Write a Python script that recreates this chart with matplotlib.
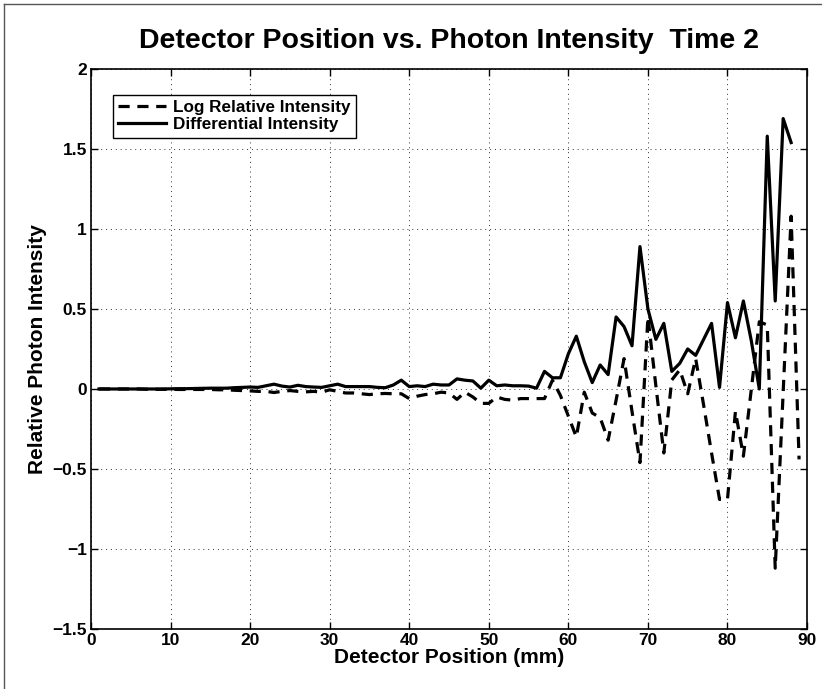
import numpy as np
import matplotlib
matplotlib.use('Agg')
from matplotlib import pyplot as plt
from matplotlib.lines import Line2D

# values
pos_diff = np.arange(1, 89)
diff_int = [0.0, 0.0, 0.0, 0.0, 0.0, 0.0, 0.0, 0.0, 0.0, 0.001,
            0.002, 0.002, 0.003, 0.004, 0.005, 0.005, 0.005, 0.008, 0.01, 0.012,
            0.01, 0.02, 0.03, 0.018, 0.012, 0.023, 0.015, 0.012, 0.01, 0.02,
            0.03, 0.015, 0.015, 0.015, 0.015, 0.01, 0.008, 0.025, 0.055, 0.015,
            0.02, 0.015, 0.03, 0.025, 0.025, 0.063, 0.055, 0.05, 0.005, 0.055,
            0.02, 0.025, 0.02, 0.02, 0.018, 0.005, 0.11, 0.07, 0.07, 0.22,
            0.33, 0.17, 0.04, 0.15, 0.09, 0.45, 0.39, 0.27, 0.89, 0.50,
            0.31, 0.41, 0.11, 0.16, 0.25, 0.21, 0.31, 0.41, 0.01, 0.54,
            0.32, 0.55, 0.30, 0.0, 1.58, 0.55, 1.69, 1.54]

pos_log = np.arange(1, 90)
log_int = [0.0, 0.0, 0.0, 0.0, 0.0, 0.0, -0.002, -0.002, -0.002, -0.002,
           -0.003, -0.003, -0.003, -0.003, -0.003, -0.005, -0.005, -0.008, -0.01, -0.012,
           -0.015, -0.015, -0.022, -0.015, -0.01, -0.015, -0.018, -0.015, -0.02, -0.005,
           -0.015, -0.025, -0.025, -0.03, -0.035, -0.03, -0.028, -0.03, -0.03, -0.06,
           -0.045, -0.035, -0.03, -0.02, -0.025, -0.065, -0.02, -0.05, -0.09, -0.09,
           -0.05, -0.065, -0.07, -0.06, -0.06, -0.06, -0.06, 0.055, -0.04, -0.17,
           -0.30, -0.02, -0.15, -0.18, -0.32, -0.07, 0.19, -0.14, -0.46, 0.45,
           0.02, -0.40, 0.056, 0.12, -0.03, 0.19, -0.10, -0.40, -0.69, -0.69,
           -0.14, -0.42, 0.0, 0.42, 0.40, -1.12, -0.02, 1.08, -0.44]

xticks = [0, 10, 20, 30, 40, 50, 60, 70, 80, 90]
yticks = [-1.5, -1, -0.5, 0, 0.5, 1, 1.5, 2]
ytick_labels = ['\u22121.5', '\u22121', '\u22120.5', '0', '0.5', '1', '1.5', '2']

plt.rcParams['font.family'] = ['Liberation Sans', 'DejaVu Sans']
plt.rcParams['font.weight'] = 'bold'

fig = plt.figure(figsize=(8.22, 6.89), dpi=100)
ax = fig.add_axes([0.1107, 0.0871, 0.8711, 0.8128])

ax.plot(pos_log, log_int, color='black', lw=2.3, linestyle=(0, (3.5, 2.4)),
        label='Log Relative Intensity')
ax.plot(pos_diff, diff_int, color='black', lw=2.3, label='Differential Intensity')

ax.set_xlim(0, 90)
ax.set_ylim(-1.5, 2)
ax.set_xticks(xticks)
ax.set_yticks(yticks)
ax.set_yticklabels(ytick_labels)
ax.tick_params(direction='in', length=5, width=1, labelsize=12.5,
               top=True, right=True, pad=3)
for lab in ax.get_xticklabels() + ax.get_yticklabels():
    lab.set_fontweight('bold')
ax.grid(True, linestyle=(0, (1, 4)), color='#333333', lw=0.7)
for s in ax.spines.values():
    s.set_linewidth(1.2)

ax.set_title('Detector Position vs. Photon Intensity  Time 2',
             fontsize=20.5, fontweight='bold', pad=15)
ax.set_xlabel('Detector Position (mm)', fontsize=15, fontweight='bold', labelpad=0)
ax.set_ylabel('Relative Photon Intensity', fontsize=15, fontweight='bold', labelpad=4)

leg = ax.legend(loc='upper left', bbox_to_anchor=(0.031, 0.954), borderaxespad=0,
                fancybox=False, edgecolor='black', framealpha=1, fontsize=12.3,
                handlelength=2.8, borderpad=0.3, labelspacing=0.15, handletextpad=0.4)
leg.get_frame().set_linewidth(1.0)
for t in leg.get_texts():
    t.set_fontweight('bold')

# thin frame of the figure (left and top edges)
fig.add_artist(Line2D([4 / 822, 4 / 822], [0, 1 - 4 / 689], color='#555555', lw=1))
fig.add_artist(Line2D([4 / 822, 1], [1 - 4 / 689, 1 - 4 / 689], color='#555555', lw=1))

fig.savefig('out.png', dpi=100)
